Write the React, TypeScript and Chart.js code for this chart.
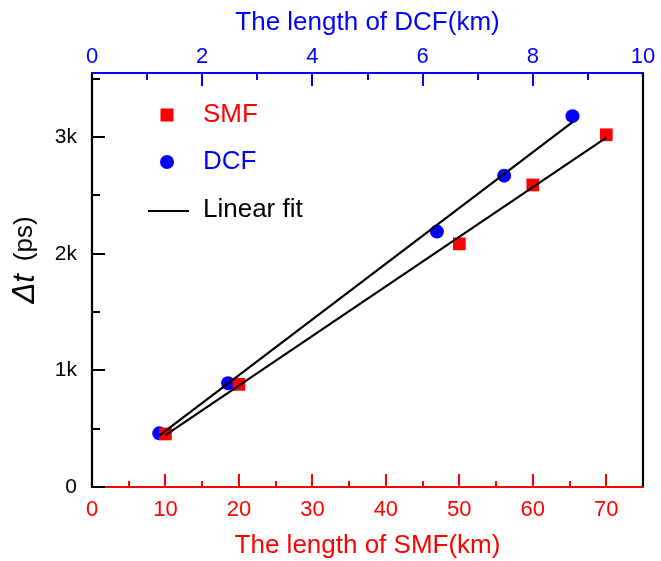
import { useEffect, useRef } from 'react';
import { Chart, registerables } from 'chart.js';

Chart.register(...registerables);

// ---- data ----
const smfLength = [10, 20, 50, 60, 70]; // km (bottom axis)
const smfDelay = [455, 880, 2085, 2590, 3020]; // ps
const dcfLength = [1.22, 2.47, 6.26, 7.48, 8.72]; // km (top axis)
const dcfDelay = [460, 890, 2190, 2670, 3180]; // ps

const smfAxisRange = [0, 75];
const dcfAxisRange = [0, 10];
const delayAxisRange = [0, 3550];
const smfTickValues = [0, 10, 20, 30, 40, 50, 60, 70];
const dcfTickValues = [0, 2, 4, 6, 8, 10];
const delayTickValues = [0, 1000, 2000, 3000];
const delayTickLabels = ['0', '1k', '2k', '3k'];
const smfMinorStep = 5;
const dcfMinorStep = 1;
const delayMinorStep = 500;

const seriesLabels = ['SMF', 'DCF', 'Linear fit'];
const xTitleSMF = 'The length of SMF(km)';
const xTitleDCF = 'The length of DCF(km)';

const RED = '#ff0000';
const BLUE = '#0000ff';
const BLACK = '#000000';
const FONT = "'Liberation Sans', Arial, sans-serif";

function fitLine(xs: number[], ys: number[]) {
  const n = xs.length;
  const mx = xs.reduce((a, b) => a + b, 0) / n;
  const my = ys.reduce((a, b) => a + b, 0) / n;
  let sxy = 0;
  let sxx = 0;
  for (let i = 0; i < n; i++) {
    sxy += (xs[i] - mx) * (ys[i] - my);
    sxx += (xs[i] - mx) * (xs[i] - mx);
  }
  const k = sxy / sxx;
  const b = my - k * mx;
  const x0 = Math.min(...xs);
  const x1 = Math.max(...xs);
  return [
    { x: x0, y: k * x0 + b },
    { x: x1, y: k * x1 + b },
  ];
}

const framePlugin = {
  id: 'frame',
  afterDraw(chart: any) {
    const { ctx } = chart;
    const { left, right, top, bottom } = chart.chartArea;
    const sx = chart.scales.x;
    const sx2 = chart.scales.x2;
    const sy = chart.scales.y;
    ctx.save();
    ctx.lineCap = 'butt';

    // right spine
    ctx.strokeStyle = BLACK;
    ctx.lineWidth = 2.2;
    ctx.beginPath();
    ctx.moveTo(right, top);
    ctx.lineTo(right, bottom + 1);
    ctx.stroke();
    // left spine
    ctx.beginPath();
    ctx.moveTo(left, top);
    ctx.lineTo(left, bottom + 1);
    ctx.stroke();

    // bottom axis (red)
    ctx.strokeStyle = RED;
    ctx.beginPath();
    ctx.moveTo(left, bottom);
    ctx.lineTo(right + 1, bottom);
    ctx.stroke();
    ctx.lineWidth = 2;
    for (let v = smfAxisRange[0] + smfMinorStep; v < smfAxisRange[1]; v += smfMinorStep) {
      const major = v % (2 * smfMinorStep) === 0;
      const px = Math.round(sx.getPixelForValue(v));
      ctx.beginPath();
      ctx.moveTo(px, bottom);
      ctx.lineTo(px, bottom - (major ? 13 : 6));
      ctx.stroke();
    }

    // left ticks (black)
    ctx.strokeStyle = BLACK;
    for (let v = delayAxisRange[0]; v <= delayAxisRange[1]; v += delayMinorStep) {
      const major = v % (2 * delayMinorStep) === 0;
      const py = Math.round(sy.getPixelForValue(v));
      ctx.beginPath();
      ctx.moveTo(left, py);
      ctx.lineTo(left + (major ? 13 : 8), py);
      ctx.stroke();
    }

    // top axis (blue)
    ctx.strokeStyle = BLUE;
    ctx.lineWidth = 2.2;
    ctx.beginPath();
    ctx.moveTo(left - 1, top);
    ctx.lineTo(right + 1, top);
    ctx.stroke();
    ctx.lineWidth = 2;
    for (let v = dcfAxisRange[0] + dcfMinorStep; v < dcfAxisRange[1]; v += dcfMinorStep) {
      const major = v % (2 * dcfMinorStep) === 0;
      const px = Math.round(sx2.getPixelForValue(v));
      ctx.beginPath();
      ctx.moveTo(px, top);
      ctx.lineTo(px, top + (major ? 13 : 7));
      ctx.stroke();
    }

    // legend
    const ds = chart.data.datasets;
    const lx = left + 75;
    const tx = left + 111;
    ctx.textBaseline = 'middle';
    ctx.textAlign = 'left';
    ctx.font = `26px ${FONT}`;
    // SMF
    ctx.fillStyle = ds[2].backgroundColor;
    ctx.fillRect(lx - 6.5, top + 42 - 6.5, 13, 13);
    ctx.fillText(ds[2].label, tx, top + 42);
    // DCF
    ctx.fillStyle = ds[3].backgroundColor;
    ctx.beginPath();
    ctx.arc(lx, top + 89, 7, 0, Math.PI * 2);
    ctx.fill();
    ctx.fillText(ds[3].label, tx, top + 89);
    // Linear fit
    ctx.strokeStyle = BLACK;
    ctx.lineWidth = 2;
    ctx.beginPath();
    ctx.moveTo(lx - 19, top + 138);
    ctx.lineTo(lx + 22, top + 138);
    ctx.stroke();
    ctx.fillStyle = BLACK;
    ctx.fillText(ds[0].label, tx, top + 137);

    // y axis title: "Δt (ps)" with italic Δt
    ctx.translate(25, (top + bottom) / 2 - 20);
    ctx.rotate(-Math.PI / 2);
    const f1 = `italic 31px ${FONT}`;
    const f2 = `26px ${FONT}`;
    ctx.font = f1;
    const w1 = ctx.measureText('Δt').width;
    ctx.font = f2;
    const gap = 13;
    const w2 = ctx.measureText('(ps)').width;
    const total = w1 + gap + w2;
    let cx = -total / 2;
    ctx.fillStyle = BLACK;
    ctx.font = f1;
    ctx.fillText('Δt', cx, 0);
    cx += w1 + gap;
    ctx.font = f2;
    ctx.fillText('(ps)', cx, 0);

    ctx.restore();
  },
};

export default function App() {
  const ref = useRef<HTMLCanvasElement>(null);

  useEffect(() => {
    if (!ref.current) return;
    Chart.defaults.font.family = FONT;
    const smfPts = smfLength.map((x, i) => ({ x, y: smfDelay[i] }));
    const dcfPts = dcfLength.map((x, i) => ({ x, y: dcfDelay[i] }));

    const chart = new Chart(ref.current, {
      type: 'scatter',
      data: {
        datasets: [
          {
            label: seriesLabels[2],
            data: fitLine(smfLength, smfDelay),
            xAxisID: 'x',
            yAxisID: 'y',
            showLine: true,
            pointRadius: 0,
            borderColor: BLACK,
            borderWidth: 2.2,
            backgroundColor: BLACK,
          },
          {
            label: seriesLabels[2] + ' DCF',
            data: fitLine(dcfLength, dcfDelay),
            xAxisID: 'x2',
            yAxisID: 'y',
            showLine: true,
            pointRadius: 0,
            borderColor: BLACK,
            borderWidth: 2.2,
            backgroundColor: BLACK,
          },
          {
            label: seriesLabels[0],
            data: smfPts,
            xAxisID: 'x',
            yAxisID: 'y',
            pointStyle: 'rect',
            pointRadius: 9,
            pointBorderWidth: 0,
            backgroundColor: RED,
            borderColor: RED,
          },
          {
            label: seriesLabels[1],
            data: dcfPts,
            xAxisID: 'x2',
            yAxisID: 'y',
            pointStyle: 'circle',
            pointRadius: 7,
            pointBorderWidth: 0,
            backgroundColor: BLUE,
            borderColor: BLUE,
          },
        ],
      },
      options: {
        responsive: false,
        animation: false,
        devicePixelRatio: 1,
        layout: { padding: { left: 0, right: 18, top: 0, bottom: 0 } },
        plugins: {
          legend: { display: false },
          tooltip: { enabled: false },
        },
        scales: {
          x: {
            type: 'linear',
            position: 'bottom',
            min: smfAxisRange[0],
            max: smfAxisRange[1],
            grid: { display: false, drawTicks: false },
            border: { display: false },
            afterBuildTicks: (s: any) => {
              s.ticks = smfTickValues.map((v) => ({ value: v }));
            },
            ticks: {
              autoSkip: false,
              maxRotation: 0,
              color: RED,
              padding: 10,
              font: { size: 22, family: FONT },
            },
            title: {
              display: true,
              text: xTitleSMF,
              color: RED,
              font: { size: 26, family: FONT },
              padding: { top: 0, bottom: 0 },
            },
            afterFit: (s: any) => {
              s.height = 74;
            },
          },
          x2: {
            type: 'linear',
            position: 'top',
            min: dcfAxisRange[0],
            max: dcfAxisRange[1],
            grid: { display: false, drawTicks: false },
            border: { display: false },
            afterBuildTicks: (s: any) => {
              s.ticks = dcfTickValues.map((v) => ({ value: v }));
            },
            ticks: {
              autoSkip: false,
              maxRotation: 0,
              color: BLUE,
              padding: 3,
              font: { size: 22, family: FONT },
            },
            title: {
              display: true,
              text: xTitleDCF,
              color: BLUE,
              font: { size: 26, family: FONT },
              padding: { top: 7, bottom: 0 },
            },
            afterFit: (s: any) => {
              s.height = 73;
            },
          },
          y: {
            type: 'linear',
            position: 'left',
            min: delayAxisRange[0],
            max: delayAxisRange[1],
            grid: { display: false, drawTicks: false },
            border: { display: false },
            afterBuildTicks: (s: any) => {
              s.ticks = delayTickValues.map((v) => ({ value: v }));
            },
            ticks: {
              autoSkip: false,
              color: BLACK,
              padding: 15,
              font: { size: 21, family: FONT },
              callback: (v: any) => {
                const i = delayTickValues.indexOf(Number(v));
                return i >= 0 ? delayTickLabels[i] : '';
              },
            },
            title: { display: false },
            afterFit: (s: any) => {
              s.width = 92;
            },
          },
        },
      },
      plugins: [framePlugin],
    });
    return () => chart.destroy();
  }, []);

  return (
    <div style={{ position: 'fixed', left: 0, top: 0, width: 661, height: 561, background: '#fff' }}>
      <canvas ref={ref} width={661} height={561} style={{ display: 'block' }} />
    </div>
  );
}
